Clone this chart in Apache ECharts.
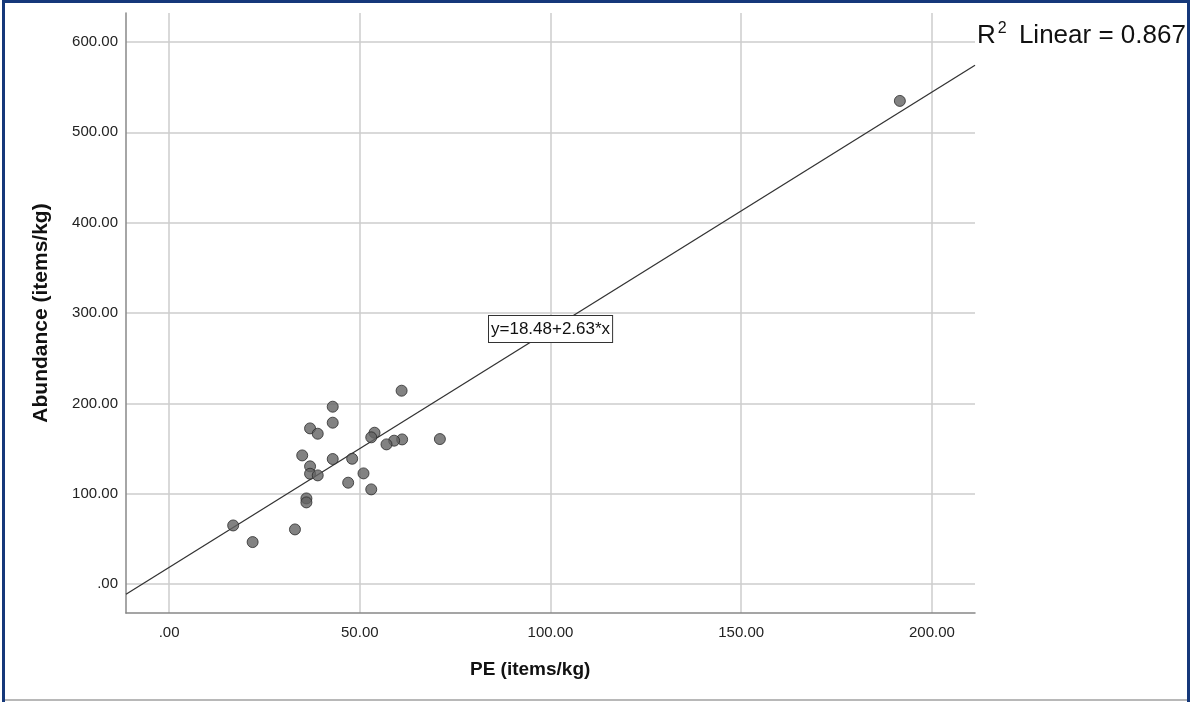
<!DOCTYPE html>
<html>
<head>
<meta charset="utf-8">
<script src="https://cdn.jsdelivr.net/npm/echarts@6/dist/echarts.min.js"></script>
<style>
html,body{margin:0;padding:0;background:#fff;}
#main{width:1192px;height:702px;}
</style>
</head>
<body>
<div id="main"></div>
<script>
// Data
const peValues = [60.96, 42.9, 42.9, 36.96, 38.97, 53.86, 53.0, 71.0, 61.1, 59.0, 57.0, 34.9, 42.9, 48.0, 36.96, 36.96, 38.97, 50.97, 46.95, 53.0, 36.0, 36.0, 16.8, 33.0, 21.9, 191.6];
const abundanceValues = [214.0, 196.3, 178.6, 172.3, 166.4, 167.5, 162.4, 160.5, 160.1, 158.7, 154.6, 142.4, 138.4, 138.7, 130.3, 122.1, 120.3, 122.5, 112.2, 104.8, 94.8, 90.4, 64.9, 60.5, 46.5, 534.7];
const fitCoefficients = [18.48, 2.63]; // intercept, slope
const xTicks = [0, 50, 100, 150, 200];
const yTicks = [0, 100, 200, 300, 400, 500, 600];
const xRange = [-11.3, 211.3];
const yRange = [-32, 632];
const xTitle = 'PE (items/kg)';
const yTitle = 'Abundance (items/kg)';
const equationText = 'y=18.48+2.63*x';
const r2Value = '0.867';

const points = peValues.map((x, i) => [x, abundanceValues[i]]);
const fitLine = xRange.map(x => [x, fitCoefficients[0] + fitCoefficients[1] * x]);
const fmt = v => (v === 0 ? '.00' : v.toFixed(2));

const chart = echarts.init(document.getElementById('main'), null, {renderer: 'canvas'});
const font = 'Liberation Sans, Arial, sans-serif';

chart.setOption({
  animation: false,
  backgroundColor: '#ffffff',
  grid: {left: 126, right: 217, top: 13, bottom: 89, containLabel: false},
  xAxis: {
    type: 'value', min: xRange[0], max: xRange[1],
    axisLine: {show: true, onZero: false, lineStyle: {color: '#888', width: 1.5}},
    axisTick: {show: false, customValues: xTicks},
    axisLabel: {customValues: xTicks, formatter: fmt, color: '#222', fontSize: 15, fontFamily: font, margin: 12},
    splitLine: {show: true, lineStyle: {color: '#cccccc', width: 1.5}}
  },
  yAxis: {
    type: 'value', min: yRange[0], max: yRange[1],
    axisLine: {show: true, onZero: false, lineStyle: {color: '#888', width: 1.5}},
    axisTick: {show: false, customValues: yTicks},
    axisLabel: {customValues: yTicks, formatter: fmt, color: '#222', fontSize: 15, fontFamily: font, margin: 8},
    splitLine: {show: true, lineStyle: {color: '#cccccc', width: 1.5}},
    name: yTitle, nameLocation: 'middle', nameRotate: 90, nameGap: 74,
    nameTextStyle: {fontSize: 21, fontWeight: 'bold', color: '#111', fontFamily: font}
  },
  series: [
    {
      type: 'line', data: fitLine, symbol: 'none', silent: true,
      lineStyle: {color: '#333', width: 1.3}, z: 2
    },
    {
      type: 'scatter', data: points, symbol: 'circle', symbolSize: 11,
      itemStyle: {color: '#636363', borderColor: '#2a2a2a', borderWidth: 1}, z: 3
    }
  ],
  graphic: [
    {type: 'rect', left: 2, top: 0, shape: {width: 3, height: 702}, style: {fill: '#15387a'}, z: 100},
    {type: 'rect', left: 2, top: 0, shape: {width: 1188, height: 3}, style: {fill: '#15387a'}, z: 100},
    {type: 'rect', left: 1187, top: 0, shape: {width: 3, height: 702}, style: {fill: '#15387a'}, z: 100},
    {type: 'rect', left: 5, top: 699, shape: {width: 1182, height: 2}, style: {fill: '#b8b8b8'}, z: 100},
    {type: 'text', left: 470, top: 660, style: {text: xTitle, font: 'bold 19px Liberation Sans, Arial, sans-serif', fill: '#111'}},
    {type: 'text', left: 977, top: 17, style: {
      text: '{r|R}{s|2}{r| Linear = ' + r2Value + '}',
      rich: {
        r: {fontSize: 26, fontFamily: font, fill: '#111', verticalAlign: 'bottom', lineHeight: 32},
        s: {fontSize: 16, fontFamily: font, fill: '#111', verticalAlign: 'top', lineHeight: 32, padding: [4, 5, 6, 2]}
      }
    }},
    {type: 'text', left: 488, top: 315, z: 50, style: {
      text: equationText, font: '17px Liberation Sans, Arial, sans-serif', fill: '#111',
      backgroundColor: '#fff', borderColor: '#333', borderWidth: 1, padding: [5, 2, 4, 2]
    }}
  ]
});
</script>
</body>
</html>
